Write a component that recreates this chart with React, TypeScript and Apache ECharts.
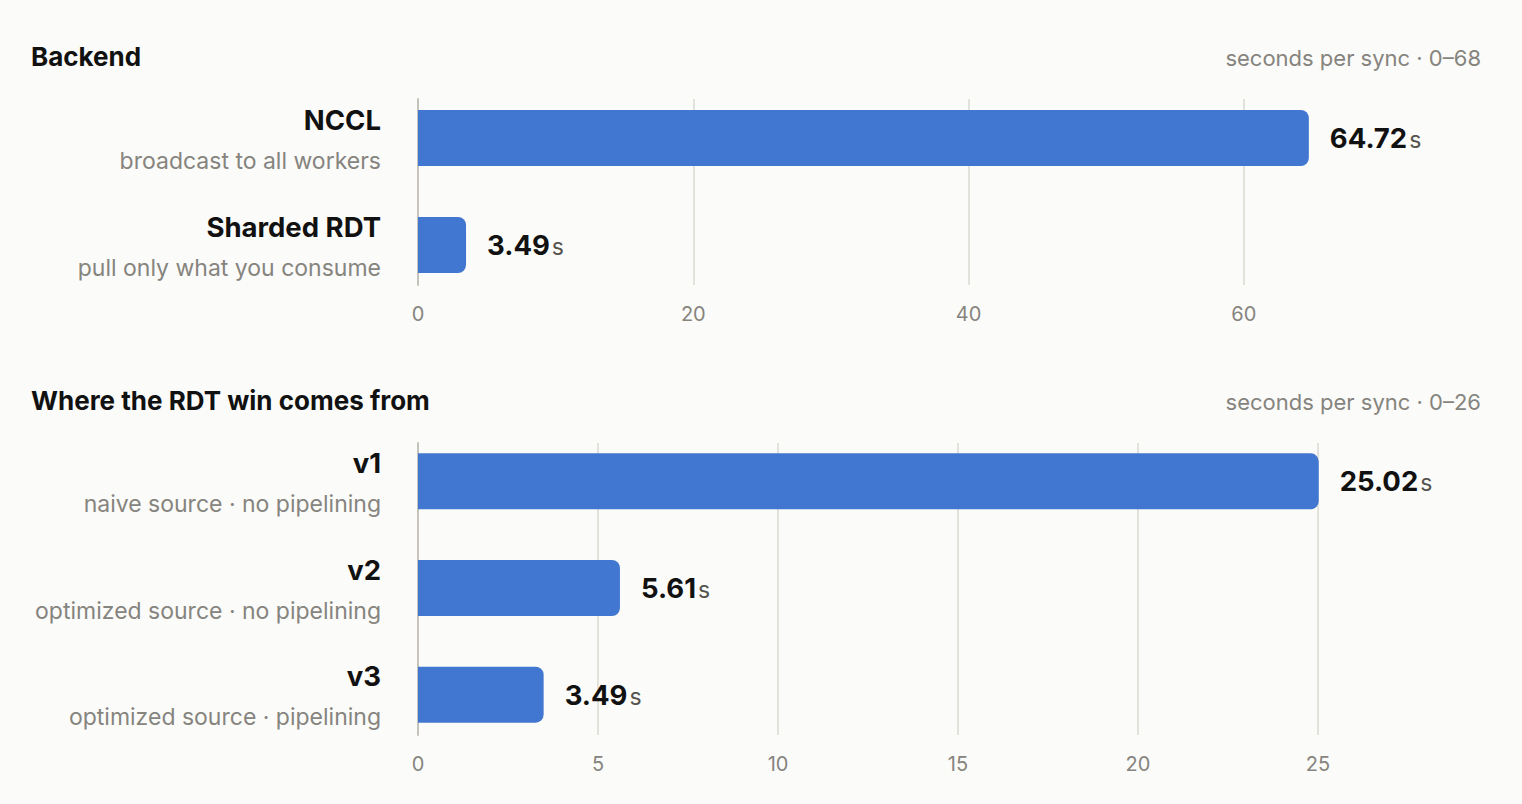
import { useEffect, useRef } from "react";
import * as echarts from "echarts";

// ---- data ----
const backendNames = ["NCCL", "Sharded RDT"];
const backendNotes = ["broadcast to all workers", "pull only what you consume"];
const backendSeconds = [64.72, 3.49];

const versionNames = ["v1", "v2", "v3"];
const versionNotes = [
  "naive source · no pipelining",
  "optimized source · no pipelining",
  "optimized source · pipelining",
];
const versionSeconds = [25.02, 5.61, 3.49];

const topMax = 68;
const topInterval = 20;
const bottomMax = 26;
const bottomInterval = 5;

// ---- style ----
const FONT = "Inter, 'Noto Sans', sans-serif";
const BG = "#fbfbf9";
const BAR = "#4177d0";
const INK = "#111111";
const MUTED = "#86847e";
const AXIS = "#c6c3bb";
const GRIDLINE = "#e2e1dc";

const W = 1522;
const LEFT = 418;
const RIGHT = W - 1354;

function labelRich() {
  return {
    n: { fontFamily: FONT, fontSize: 27.5, fontWeight: 700, color: INK, lineHeight: 41, align: "right" as const },
    d: { fontFamily: FONT, fontSize: 23, color: MUTED, lineHeight: 41, align: "right" as const },
  };
}

// grid that only draws gridlines + tick labels
function lineGrid(top: number, bottom: number) {
  return { left: LEFT, right: RIGHT, top, height: bottom - top, containLabel: false };
}

export default function App() {
  const ref = useRef<HTMLDivElement>(null);

  useEffect(() => {
    document.body.style.margin = "0";
    document.body.style.background = BG;
    if (!ref.current) return;
    const chart = echarts.init(ref.current, undefined, { renderer: "svg" });

    const valueLineAxis = (gridIndex: number, max: number, interval: number) => ({
      type: "value" as const,
      gridIndex,
      min: 0,
      max,
      interval,
      axisLine: { show: false },
      axisTick: { show: false },
      axisLabel: {
        show: true,
        margin: 19,
        color: MUTED,
        fontFamily: FONT,
        fontSize: 20,
        showMaxLabel: false,
        formatter: (v: number) => (v % interval === 0 ? String(v) : ""),
      },
      splitLine: {
        show: true,
        showMinLine: false,
        showMaxLine: false,
        lineStyle: { color: GRIDLINE, width: 2 },
      },
    });

    const hiddenValueAxis = (gridIndex: number, max: number) => ({
      type: "value" as const,
      gridIndex,
      min: 0,
      max,
      show: false,
    });

    const baseYAxis = (gridIndex: number) => ({
      type: "category" as const,
      gridIndex,
      data: ["a"],
      axisLine: { show: true, lineStyle: { color: AXIS, width: 2 } },
      axisTick: { show: false },
      axisLabel: { show: false },
      splitLine: { show: false },
    });

    const catAxis = (gridIndex: number, names: string[], notes: string[]) => ({
      type: "category" as const,
      gridIndex,
      inverse: true,
      data: names,
      axisLine: { show: false },
      axisTick: { show: false },
      splitLine: { show: false },
      axisLabel: {
        margin: 37,
        align: "right" as const,
        padding: [4, 0, 0, 0],
        formatter: (v: string, i: number) => `{n|${v}}\n{d|${notes[i]}}`,
        rich: labelRich(),
      },
    });

    const barSeries = (axisIndex: number, values: number[]) => ({
      type: "bar" as const,
      xAxisIndex: axisIndex,
      yAxisIndex: axisIndex,
      data: values,
      barWidth: 56,
      itemStyle: { color: BAR, borderRadius: [0, 8, 8, 0] },
      label: {
        show: true,
        position: "right" as const,
        distance: 21,
        formatter: (p: { value: number }) => `{v|${p.value.toFixed(2)}}{u|s}`,
        rich: {
          v: { fontFamily: FONT, fontSize: 27.5, fontWeight: 700, color: INK },
          u: { fontFamily: FONT, fontSize: 23, color: "#55534e", padding: [4, 0, 0, 2] },
        },
      },
    });

    const heading = (text: string, top: number) => ({
      text,
      left: 26,
      top,
      textStyle: { fontFamily: FONT, fontSize: 26, fontWeight: 700, color: INK },
    });

    const rangeNote = (text: string, top: number) => ({
      text,
      right: 36,
      top,
      textStyle: { fontFamily: FONT, fontSize: 22, fontWeight: 400, color: MUTED },
    });

    chart.setOption({
      animation: false,
      backgroundColor: BG,
      title: [
        heading("Backend", 38),
        rangeNote("seconds per sync · 0–68", 42),
        heading("Where the RDT win comes from", 382),
        rangeNote("seconds per sync · 0–26", 386),
      ],
      grid: [
        // bars
        { left: LEFT, right: RIGHT, top: 84.5, height: 214 },
        { left: LEFT, right: RIGHT, top: 428, height: 320 },
        // gridlines
        lineGrid(99, 285),
        lineGrid(443, 735),
      ],
      xAxis: [
        hiddenValueAxis(0, topMax),
        hiddenValueAxis(1, bottomMax),
        valueLineAxis(2, topMax, topInterval),
        valueLineAxis(3, bottomMax, bottomInterval),
      ],
      yAxis: [
        catAxis(0, backendNames, backendNotes),
        catAxis(1, versionNames, versionNotes),
        baseYAxis(2),
        baseYAxis(3),
      ],
      series: [barSeries(0, backendSeconds), barSeries(1, versionSeconds)],
    });

    return () => chart.dispose();
  }, []);

  return <div ref={ref} style={{ width: W, height: 804, background: BG }} />;
}
